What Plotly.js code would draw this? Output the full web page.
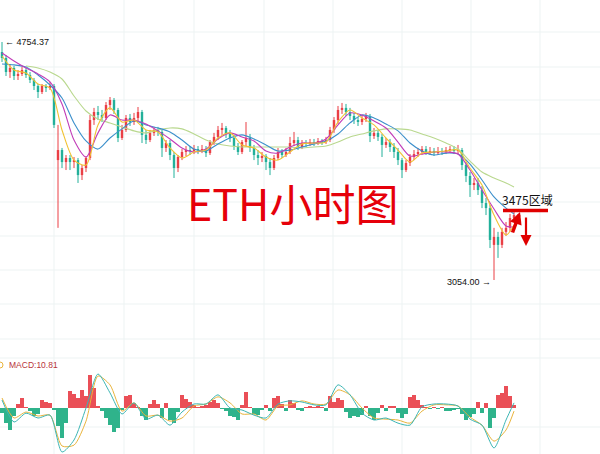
<!DOCTYPE html>
<html>
<head>
<meta charset="utf-8">
<script src="https://cdn.plot.ly/plotly-3.0.1.min.js"></script>
<style>
  html, body { margin: 0; padding: 0; background: #ffffff; }
  #chart { width: 600px; height: 454px; }
</style>
</head>
<body>
<div id="chart"></div>
<script>
// ETH hourly candles (USDT)
const open = [4667,4615,4496,4530,4463,4480,4513,4471,4430,4381,4332,4381,4364,4381,3817,3889,3803,3832,3803,3817,
  3712,3761,3832,4112,4174,4151,4128,4229,4268,4190,3977,4037,4128,4097,4128,4174,4000,3962,4015,4037,
  4022,3904,3940,3853,3761,3839,3875,3889,3882,3896,3889,3896,3867,3947,3985,4037,4052,4007,3977,3918,
  3875,3947,3977,3904,3853,3832,3846,3803,3761,3832,3875,3853,3875,3940,3962,3911,3940,3933,3947,3940,
  3955,3947,3962,4037,4112,4190,4206,4174,4143,4112,4097,4120,4143,3992,4015,3985,3926,3947,3911,3875,
  3817,3747,3796,3839,3860,3875,3896,3875,3882,3867,3882,3875,3889,3896,3882,3889,3782,3706,3644,3658,
  3610,3524,3491,3260,3309,3260,3340,3365,3427];
const high = [4754.37,4641,4564,4547,4513,4538,4530,4496,4447,4397,4397,4397,4414,4397,4075,3904,3853,3853,3839,3832,
  3782,3846,4151,4206,4221,4190,4252,4292,4284,4206,4075,4151,4159,4167,4213,4190,4037,4037,4060,4060,
  4037,3962,3962,3875,3853,3896,3918,3918,3926,3918,3926,3918,3962,4015,4067,4090,4067,4037,4000,3940,
  3962,4097,4007,3926,3889,3875,3860,3832,3853,3904,3896,3904,3985,4022,3985,3962,3962,3970,3970,3977,
  3970,3985,4060,4135,4221,4245,4237,4206,4167,4135,4151,4167,4159,4052,4037,4007,3977,3970,3940,3904,
  3832,3817,3860,3889,3904,3918,3918,3911,3904,3911,3904,3911,3918,3918,3926,3904,3803,3733,3692,3692,
  3637,3557,3511,3365,3340,3365,3402,3453,3478];
const low = [4581,4463,4447,4430,4430,4463,4447,4405,4348,4284,4316,4332,4348,4052,3365,3761,3747,3747,3761,3658,
  3678,3733,3817,4075,4112,4097,4112,4190,4159,3947,3962,4022,4067,4075,4097,3940,3933,3947,3992,3992,
  3839,3875,3817,3692,3733,3817,3846,3853,3860,3860,3867,3839,3853,3926,3962,4000,3977,3947,3889,3853,
  3860,3918,3875,3817,3782,3803,3747,3712,3747,3817,3832,3839,3860,3918,3889,3896,3911,3918,3918,3926,
  3926,3933,3947,4015,4082,4159,4143,4112,4082,4067,4075,4097,3947,3970,3955,3839,3904,3875,3832,3782,
  3692,3733,3775,3817,3839,3853,3853,3853,3846,3853,3853,3860,3867,3860,3860,3747,3664,3564,3610,3577,
  3491,3446,3241,3054.00,3182,3241,3315,3340,3402];
const close = [4615,4496,4530,4463,4480,4513,4471,4430,4381,4332,4381,4364,4381,4075,3889,3803,3832,3803,3817,3712,
  3761,3832,4112,4174,4151,4128,4229,4268,4190,3977,4037,4128,4097,4128,4174,4000,3962,4015,4037,4022,
  3904,3940,3853,3761,3839,3875,3889,3882,3896,3889,3896,3867,3947,3985,4037,4052,4007,3977,3918,3875,
  3947,3977,3904,3853,3832,3846,3803,3761,3832,3875,3853,3875,3940,3962,3911,3940,3933,3947,3940,3955,
  3947,3962,4037,4112,4190,4206,4174,4143,4112,4097,4120,4143,3992,4015,3985,3926,3947,3911,3875,3817,
  3747,3796,3839,3860,3875,3896,3875,3882,3867,3882,3875,3889,3896,3882,3889,3782,3706,3644,3658,3610,
  3524,3491,3290,3309,3260,3340,3365,3427,3446];

// moving averages, sampled every third hour
const maIdx = [0,3,6,9,12,15,18,21,24,27,30,33,36,39,42,45,48,51,54,57,60,63,66,69,72,75,78,81,84,87,
  90,93,96,99,102,105,108,111,114,117,120,123,126,128];
const maFast = [4632,4513,4488,4397,4364,4037,3817,3782,4075,4206,4097,4112,4037,4022,3904,3832,3875,3889,3977,4015,
  3926,3904,3839,3817,3875,3933,3940,3947,4097,4190,4128,4075,3977,3889,3803,3867,3875,3882,3889,3761,
  3644,3446,3321,3383];
const maMid = [4658,4590,4530,4480,4414,4237,3962,3839,4015,4151,4112,4112,4082,4030,3970,3904,3875,3896,3970,4015,
  3985,3955,3882,3867,3911,3940,3940,3970,4075,4167,4151,4105,4052,3947,3846,3860,3875,3875,3860,3747,
  3610,3485,3377,3371];
const maSlow = [4564,4556,4538,4471,4389,4284,4090,3955,3896,3977,4045,4105,4075,4052,4022,3962,3896,3882,3933,3977,
  4000,3970,3926,3882,3889,3911,3933,3955,4007,4090,4151,4128,4082,4030,3940,3882,3853,3867,3860,3789,
  3678,3564,3491,3453];
// long average begins at hour 6
const maLong = [4547,4530,4496,4438,4300,4182,4120,4090,4060,4030,4015,4037,4052,4045,4007,3962,3933,3918,3911,3911,
  3911,3911,3911,3904,3911,3918,3947,3985,4007,4030,4045,4045,4037,4007,3977,3940,3896,3810,3733,3692,
  3658,3630];

// MACD
const macdHist = [-18,-53,-77,-28,14,35,4,-11,-28,-21,28,21,18,-7,-63,-105,-53,60,49,35,
  63,42,116,70,7,-11,-35,-60,-84,-70,-7,42,46,18,4,-28,-42,14,28,14,
  -35,18,-42,-53,-14,46,32,21,11,4,7,11,21,28,18,-4,-11,-28,-32,-42,
  11,56,4,-21,-25,-7,11,-11,35,42,14,-11,28,18,-7,-11,4,7,4,7,
  4,-11,42,21,35,28,-14,-35,-28,-32,-25,7,-28,-42,-18,11,-11,7,7,-18,
  -35,-21,39,46,28,11,4,-4,4,-4,4,-11,-11,-7,-4,-21,-42,-32,-21,21,
  -18,18,-70,-35,46,53,77,42,10.81];
const macdDif = [28,-49,-18,-35,-25,-154,-112,0,119,53,-21,18,-39,-25,-60,-14,14,14,46,0,
  -7,-25,-35,14,25,21,11,11,81,46,-18,-42,-35,-53,-60,4,14,14,7,-39,-60,-140,-42,18];
const macdDea = [35,-35,-14,-28,-25,-133,-130,-46,112,81,-11,18,-28,-25,-46,-35,7,14,39,18,
  -21,-21,-42,7,11,25,14,14,63,46,0,-35,-39,-42,-53,-11,11,11,7,-32,-60,-116,-77,-11];

const peakLabel = '← 4754.37';
const troughLabel = '3054.00 →';
const zoneLevel = 3475;
const zoneLabel = '3475区域';
const titleText = 'ETH小时图';
const macdLabel = 'MACD:10.81';

const hours = close.map((_, i) => i);
const RED = '#ea3f45';
const TEAL = '#22b09a';

const W = 600, H = 454;
const px = v => v / W;          // horizontal pixel -> paper
const py = v => 1 - v / H;      // vertical pixel -> paper

// slim candles: one wick segment and one body segment per hour, split by direction
function candleSegments(rising) {
  const wx = [], wy = [], bx = [], by = [];
  hours.forEach(i => {
    if ((close[i] >= open[i]) !== rising) return;
    wx.push(i, i, null); wy.push(low[i], high[i], null);
    bx.push(i, i, null); by.push(open[i], close[i], null);
  });
  return { wx, wy, bx, by };
}
const up = candleSegments(true);
const dn = candleSegments(false);

const traces = [
  { type: 'scatter', mode: 'lines', x: dn.wx, y: dn.wy, yaxis: 'y', line: { color: TEAL, width: 1 } },
  { type: 'scatter', mode: 'lines', x: dn.bx, y: dn.by, yaxis: 'y', line: { color: TEAL, width: 2.4 } },
  { type: 'scatter', mode: 'lines', x: up.wx, y: up.wy, yaxis: 'y', line: { color: RED, width: 1 } },
  { type: 'scatter', mode: 'lines', x: up.bx, y: up.by, yaxis: 'y', line: { color: RED, width: 2.4 } },
  { type: 'scatter', mode: 'lines', x: maIdx.slice(2), y: maLong, yaxis: 'y',
    line: { color: '#b9d88e', width: 1.1, shape: 'spline', smoothing: 0.8 } },
  { type: 'scatter', mode: 'lines', x: maIdx, y: maSlow, yaxis: 'y',
    line: { color: '#3b8fcb', width: 1.1, shape: 'spline', smoothing: 0.8 } },
  { type: 'scatter', mode: 'lines', x: maIdx, y: maMid, yaxis: 'y',
    line: { color: '#c13cb8', width: 1.1, shape: 'spline', smoothing: 0.8 } },
  { type: 'scatter', mode: 'lines', x: maIdx, y: maFast, yaxis: 'y',
    line: { color: '#f1c232', width: 1.1, shape: 'spline', smoothing: 0.8 } },
  // support/resistance zone bar
  { type: 'scatter', mode: 'lines', x: [125.25, 136.5], y: [zoneLevel, zoneLevel], yaxis: 'y',
    line: { color: '#e00000', width: 3.5 } },
  // MACD histogram and signal lines
  { type: 'bar', x: hours, y: macdHist, yaxis: 'y2', width: 1,
    marker: { color: macdHist.map(v => v >= 0 ? '#ea4f57' : '#2fb38b'), line: { width: 0 } } },
  { type: 'scatter', mode: 'lines', x: maIdx, y: macdDea, yaxis: 'y2',
    line: { color: '#e9b43c', width: 1, shape: 'spline', smoothing: 0.7 } },
  { type: 'scatter', mode: 'lines', x: maIdx, y: macdDif, yaxis: 'y2',
    line: { color: '#3cb6b4', width: 1, shape: 'spline', smoothing: 0.7 } }
];

// faint grid
const shapes = [];
[54, 124, 194, 264, 333, 402, 471, 540].forEach(x => shapes.push({
  type: 'line', xref: 'paper', yref: 'paper', x0: px(x), x1: px(x), y0: 0, y1: 1,
  line: { color: '#edf3f3', width: 1 }, layer: 'below'
}));
[32, 67, 100, 134, 168, 202, 236, 270, 304, 339, 358, 427].forEach(y => shapes.push({
  type: 'line', xref: 'paper', yref: 'paper', x0: 0, x1: 1, y0: py(y), y1: py(y),
  line: { color: '#edf3f3', width: 1 }, layer: 'below'
}));
shapes.push({
  type: 'circle', xref: 'paper', yref: 'paper', x0: px(-3), x1: px(3), y0: py(368), y1: py(362),
  line: { color: '#e9b43c', width: 1 }, fillcolor: 'rgba(0,0,0,0)'
});

const labelFont = { family: 'Liberation Sans, Arial, sans-serif', size: 9, color: '#111111' };

const annotations = [
  { xref: 'x', yref: 'y', x: 0, y: Math.log10(high[0]), text: peakLabel, showarrow: false,
    xanchor: 'left', yanchor: 'middle', xshift: 1, font: labelFont },
  { xref: 'x', yref: 'y', x: 123, y: Math.log10(low[123]), text: troughLabel, showarrow: false,
    xanchor: 'right', yanchor: 'middle', xshift: -1, yshift: -2, font: labelFont },
  { xref: 'x', yref: 'y', x: 124.5, y: Math.log10(zoneLevel), text: zoneLabel, showarrow: false,
    xanchor: 'left', yanchor: 'bottom', yshift: 1,
    font: { family: 'Noto Sans CJK SC, sans-serif', size: 12, color: '#111111' } },
  { xref: 'paper', yref: 'paper', x: px(292), y: py(202), text: titleText, showarrow: false,
    xanchor: 'center', yanchor: 'middle',
    font: { family: 'Noto Sans CJK SC, sans-serif', size: 43, color: '#e6000a' } },
  { xref: 'paper', yref: 'paper', x: px(7), y: py(365), text: macdLabel, showarrow: false,
    xanchor: 'left', yanchor: 'middle',
    font: { family: 'Liberation Sans, Arial, sans-serif', size: 8.5, color: '#b8333a' } },
  // rebound arrow and drop arrow
  { xref: 'paper', yref: 'paper', x: px(520), y: py(212), ax: -8, ay: 22, text: '',
    showarrow: true, arrowhead: 2, arrowsize: 0.7, arrowwidth: 3.5, arrowcolor: '#e00000' },
  { xref: 'paper', yref: 'paper', x: px(526), y: py(246), ax: 0, ay: -30, text: '',
    showarrow: true, arrowhead: 2, arrowsize: 1, arrowwidth: 2.2, arrowcolor: '#e00000' }
];

const lnHi = Math.log10(4754.37), lnLo = Math.log10(3054);
const perPx = (lnHi - lnLo) / 238;

const layout = {
  width: W, height: H,
  margin: { l: 0, r: 0, t: 0, b: 0 },
  paper_bgcolor: '#ffffff', plot_bgcolor: 'rgba(0,0,0,0)',
  showlegend: false, hovermode: false, bargap: 0,
  xaxis: { range: [-0.5, 149.5], visible: false, showgrid: false, zeroline: false, fixedrange: true },
  yaxis: { type: 'log', domain: [1 - 340 / H, 1],
    range: [lnLo - 60 * perPx, lnHi + 42 * perPx],
    visible: false, showgrid: false, zeroline: false },
  yaxis2: { domain: [0, 104 / H], range: [-161, 203], visible: false,
    showgrid: false, zeroline: false },
  shapes: shapes,
  annotations: annotations
};

Plotly.newPlot('chart', traces, layout, { staticPlot: true, displayModeBar: false });
</script>
</body>
</html>
